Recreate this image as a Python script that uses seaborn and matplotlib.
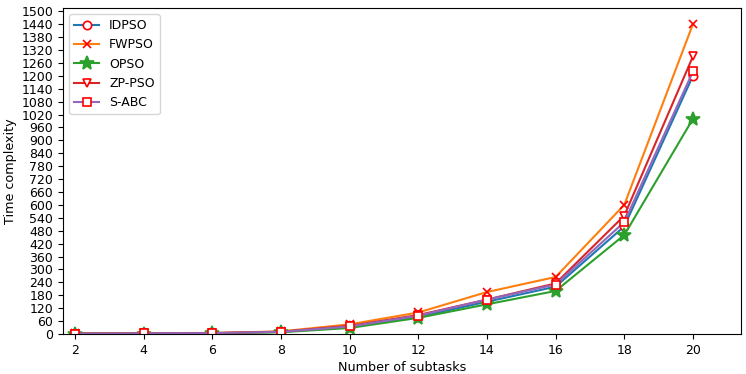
import numpy as np
import pandas as pd
import seaborn as sns
import matplotlib
matplotlib.use("Agg")
import matplotlib.pyplot as plt

# subtasks on the x axis
subtasks = [2, 4, 6, 8, 10, 12, 14, 16, 18, 20]

# time complexity
idpso = [2, 3, 4, 10, 32, 80, 150, 220, 500, 1200]
fwpso = [3, 4, 5, 12, 45, 100, 195, 265, 600, 1440]
opso = [1, 2, 3, 8, 28, 75, 138, 200, 460, 1000]
zppso = [2, 3, 4, 11, 38, 88, 160, 235, 550, 1290]
sabc = [2, 3, 4, 10, 35, 85, 160, 230, 520, 1220]

names = ["IDPSO", "FWPSO", "OPSO", "ZP-PSO", "S-ABC"]
series = [idpso, fwpso, opso, zppso, sabc]

df = pd.DataFrame({
    "subtasks": subtasks * len(names),
    "value": sum(series, []),
    "method": np.repeat(names, len(subtasks)),
})

styles = {
    "IDPSO": dict(color="C0", marker="o", mfc="white", mec="red", ms=6),
    "FWPSO": dict(color="C1", marker="x", mfc="red", mec="red", ms=6),
    "OPSO": dict(color="C2", marker="*", mfc="C2", mec="C2", ms=10),
    "ZP-PSO": dict(color="C3", marker="v", mfc="white", mec="red", ms=6),
    "S-ABC": dict(color="C4", marker="s", mfc="white", mec="red", ms=6),
}

plt.rcParams["font.size"] = 9

fig = plt.figure(figsize=(7.46, 3.74), dpi=100)
ax = fig.add_axes([63 / 746, 40 / 374, 678 / 746, 326 / 374])

for name in names:
    st = styles[name]
    sns.lineplot(data=df[df["method"] == name], x="subtasks", y="value",
                 ax=ax, label=name, color=st["color"], marker=st["marker"],
                 markerfacecolor=st["mfc"], markeredgecolor=st["mec"],
                 markersize=st["ms"], markeredgewidth=1.2, linewidth=1.5)

ax.set_xlim(1.65, 21.4)
ax.set_ylim(0, 1515)
ax.set_xticks(range(2, 21, 2))
ax.set_yticks(range(0, 1501, 60))
ax.tick_params(labelsize=9)
ax.set_xlabel("Number of subtasks", fontsize=9.2, labelpad=3)
ax.set_ylabel("Time complexity", fontsize=9.2, labelpad=3)
ax.legend(loc="upper left", fontsize=9)

fig.savefig("out.png", dpi=100)
